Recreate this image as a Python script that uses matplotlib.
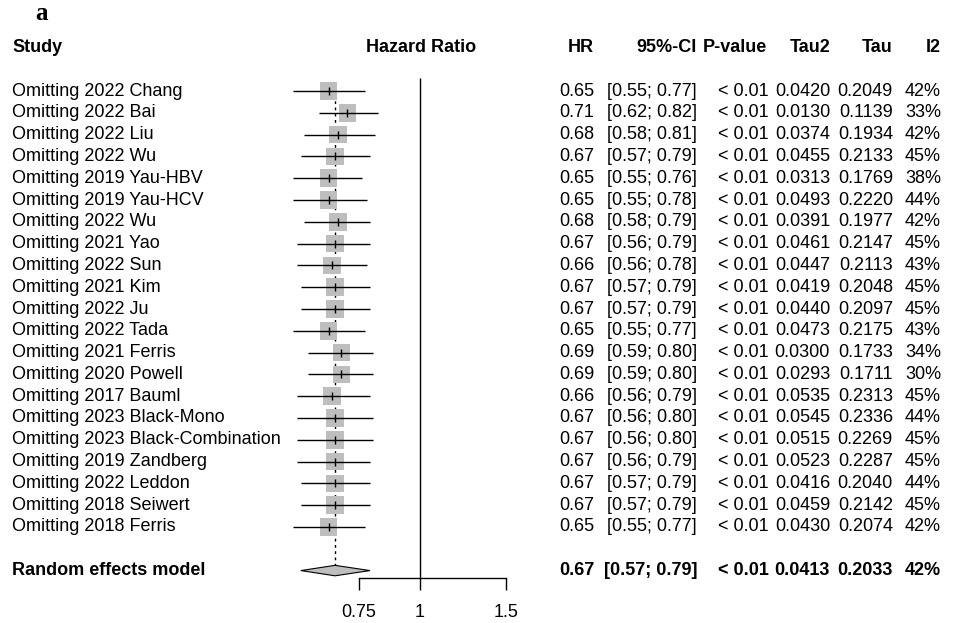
import matplotlib
matplotlib.use("Agg")
import matplotlib.pyplot as plt
import matplotlib.transforms as mtransforms

plt.rcParams['font.family'] = ['Liberation Sans', 'DejaVu Sans']

# --- data (leave-one-out meta-analysis) ---
studies = ["Omitting 2022 Chang", "Omitting 2022 Bai", "Omitting 2022 Liu", "Omitting 2022 Wu",
           "Omitting 2019 Yau-HBV", "Omitting 2019 Yau-HCV", "Omitting 2022 Wu", "Omitting 2021 Yao",
           "Omitting 2022 Sun", "Omitting 2021 Kim", "Omitting 2022 Ju", "Omitting 2022 Tada",
           "Omitting 2021 Ferris", "Omitting 2020 Powell", "Omitting 2017 Bauml",
           "Omitting 2023 Black-Mono", "Omitting 2023 Black-Combination", "Omitting 2019 Zandberg",
           "Omitting 2022 Leddon", "Omitting 2018 Seiwert", "Omitting 2018 Ferris"]
hr = [0.65, 0.71, 0.68, 0.67, 0.65, 0.65, 0.68, 0.67, 0.66, 0.67, 0.67,
      0.65, 0.69, 0.69, 0.66, 0.67, 0.67, 0.67, 0.67, 0.67, 0.65]
ci_lo = [0.55, 0.62, 0.58, 0.57, 0.55, 0.55, 0.58, 0.56, 0.56, 0.57, 0.57,
         0.55, 0.59, 0.59, 0.56, 0.56, 0.56, 0.56, 0.57, 0.57, 0.55]
ci_hi = [0.77, 0.82, 0.81, 0.79, 0.76, 0.78, 0.79, 0.79, 0.78, 0.79, 0.79,
         0.77, 0.80, 0.80, 0.79, 0.80, 0.80, 0.79, 0.79, 0.79, 0.77]
pvals = ["< 0.01"] * len(studies)
tau2 = [0.0420, 0.0130, 0.0374, 0.0455, 0.0313, 0.0493, 0.0391, 0.0461, 0.0447, 0.0419, 0.0440,
        0.0473, 0.0300, 0.0293, 0.0535, 0.0545, 0.0515, 0.0523, 0.0416, 0.0459, 0.0430]
tau = [0.2049, 0.1139, 0.1934, 0.2133, 0.1769, 0.2220, 0.1977, 0.2147, 0.2113, 0.2048, 0.2097,
       0.2175, 0.1733, 0.1711, 0.2313, 0.2336, 0.2269, 0.2287, 0.2040, 0.2142, 0.2074]
i2 = [42, 33, 42, 45, 38, 44, 42, 45, 43, 45, 45, 43, 34, 30, 45, 44, 45, 45, 44, 45, 42]

# random effects model
re_label = "Random effects model"
re_hr, re_lo, re_hi = 0.67, 0.57, 0.79
re_p, re_tau2, re_tau, re_i2 = "< 0.01", 0.0413, 0.2033, 42

xticks = [0.75, 1, 1.5]
xticklabels = ["0.75", "1", "1.5"]

W, H = 957, 623
FS = 13

fig = plt.figure(figsize=(W / 100, H / 100), dpi=100)
ax = fig.add_axes([270 / W, 1 - 600 / H, 270 / W, 570 / H])
ax.set_xscale('log')
ax.set_xlim(0.4930, 1.761)
ax.set_ylim(23.35, -2.80)

rows = list(range(len(studies)))
re_row = len(studies) + 1
axis_row = 22.34

# CI lines, squares, estimate ticks
ax.scatter(hr, rows, marker='s', s=160, color='#BEBEBE', edgecolors='none', zorder=2, clip_on=False)
ax.hlines(rows, ci_lo, ci_hi, color='black', lw=1, zorder=3, clip_on=False)
ax.scatter(hr, rows, marker='|', s=40, color='black', linewidths=1, zorder=4, clip_on=False)

# pooled estimate line and null line
ax.vlines(re_hr, -0.4, re_row, color='black', lw=1, linestyles=(0, (2, 2.5)), zorder=1, clip_on=False)
ax.vlines(1, -0.6, axis_row, color='black', lw=1, zorder=1, clip_on=False)

# diamond
dh = 0.24
ax.fill([re_lo, re_hr, re_hi, re_hr], [re_row, re_row - dh, re_row, re_row + dh],
        facecolor='#BEBEBE', edgecolor='black', lw=0.8, zorder=3, clip_on=False)

# axis
for s in ['top', 'right', 'left']:
    ax.spines[s].set_visible(False)
ax.spines['bottom'].set_position(('data', axis_row))
ax.spines['bottom'].set_bounds(0.75, 1.5)
ax.spines['bottom'].set_linewidth(1)
ax.set_xticks(xticks)
ax.set_xticklabels(xticklabels)
ax.minorticks_off()
ax.tick_params(axis='x', direction='out', length=8.6, width=1, pad=10, labelsize=FS)
ax.set_yticks([])
ax.patch.set_visible(False)

# text columns: x in figure pixels, y in row units
trans = mtransforms.blended_transform_factory(fig.transFigure, ax.transData)


def put(px, row, s, ha='right', bold=False):
    ax.text(px / W, row, s, transform=trans, ha=ha, va='center', fontsize=FS,
            fontweight='bold' if bold else 'normal', clip_on=False)


col_hr, col_ci, col_p, col_tau2, col_tau, col_i2 = 594, 697, 769, 830, 893, 941

# headers
hrow = -2
put(12, hrow, "Study", ha='left', bold=True)
put(421, hrow, "Hazard Ratio", ha='center', bold=True)
put(col_hr, hrow, "HR", bold=True)
put(col_ci, hrow, "95%-CI", bold=True)
put(767, hrow, "P-value", bold=True)
put(col_tau2, hrow, "Tau2", bold=True)
put(col_tau, hrow, "Tau", bold=True)
put(col_i2, hrow, "I2", bold=True)

for r, name in enumerate(studies):
    put(12, r, name, ha='left')
    put(col_hr, r, f"{hr[r]:.2f}")
    put(col_ci, r, f"[{ci_lo[r]:.2f}; {ci_hi[r]:.2f}]")
    put(col_p, r, pvals[r])
    put(col_tau2, r, f"{tau2[r]:.4f}")
    put(col_tau, r, f"{tau[r]:.4f}")
    put(col_i2, r, f"{i2[r]}%")

put(12, re_row, re_label, ha='left', bold=True)
put(col_hr, re_row, f"{re_hr:.2f}", bold=True)
put(col_ci, re_row, f"[{re_lo:.2f}; {re_hi:.2f}]", bold=True)
put(col_p, re_row, re_p, bold=True)
put(col_tau2, re_row, f"{re_tau2:.4f}", bold=True)
put(col_tau, re_row, f"{re_tau:.4f}", bold=True)
put(col_i2, re_row, f"{re_i2}%", bold=True)

# panel letter
fig.text(41 / W, 1 - 13 / H, "a", family=['Liberation Serif', 'DejaVu Serif'], fontweight='bold',
         fontsize=18, ha='center', va='center')

fig.savefig("out.png", dpi=100)
